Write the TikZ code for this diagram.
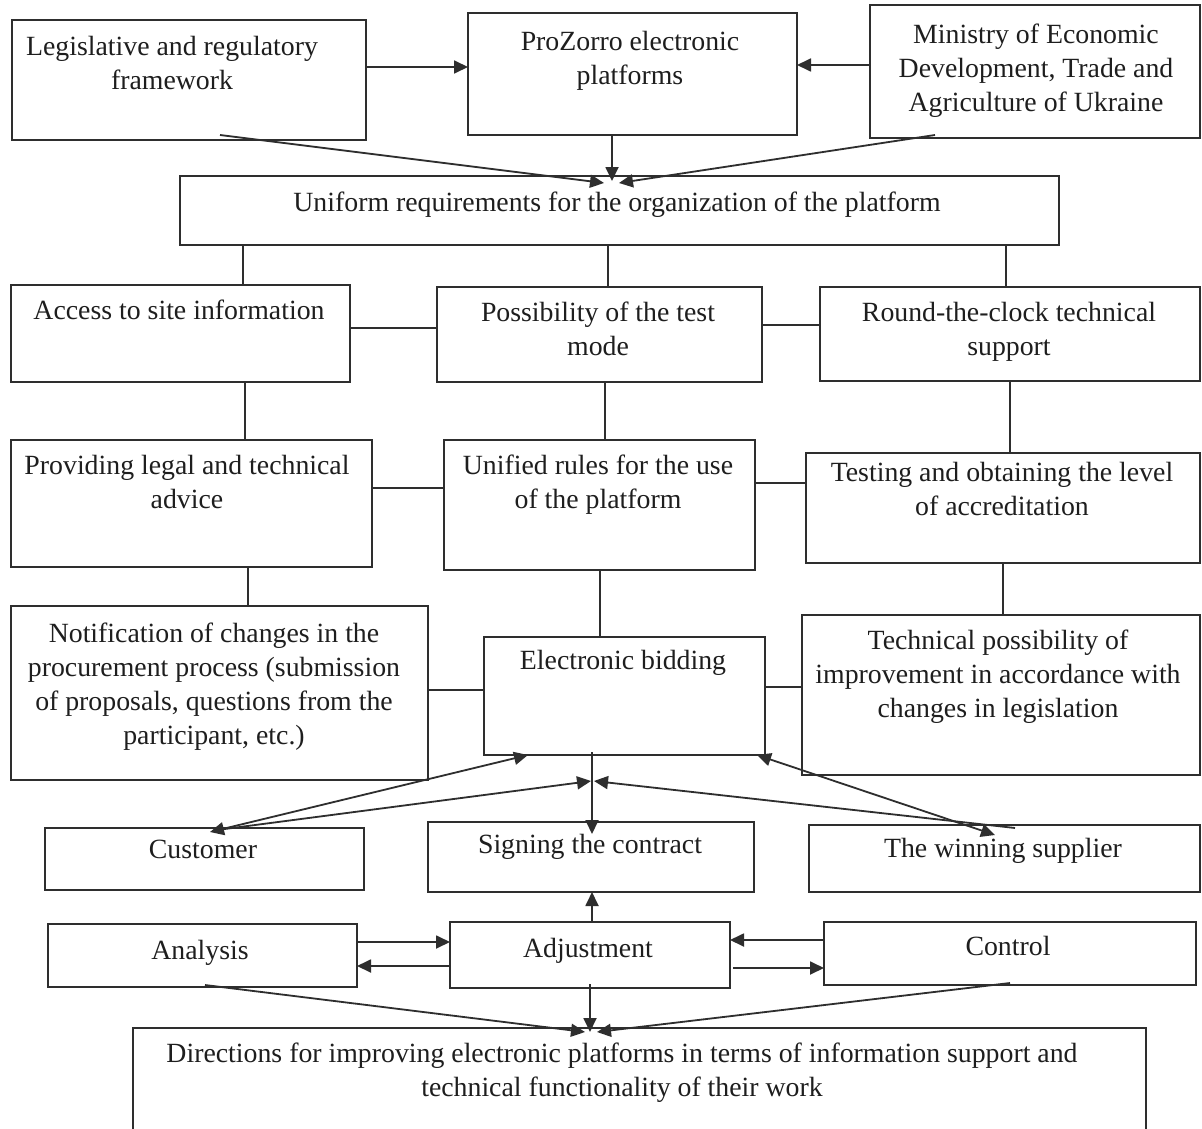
\documentclass[tikz,border=0pt]{standalone}
\usepackage{fontspec}
\setmainfont{Liberation Serif}
\usetikzlibrary{calc,arrows.meta}
\definecolor{linec}{HTML}{2E2E2E}
\definecolor{txtc}{HTML}{1E1E1E}
\tikzset{
  box/.style={draw=linec, line width=1.8pt, anchor=north west, inner sep=0pt, outer sep=0pt},
  txt/.style={anchor=north, align=center, inner sep=0pt, text=txtc, font=\fontsize{27.8}{34}\selectfont},
  ln/.style={draw=linec, line width=1.8pt},
  arr/.style={ln, -{Triangle[length=14pt,width=13pt]}},
  darr/.style={ln, {Triangle[length=14pt,width=13pt]}-{Triangle[length=14pt,width=13pt]}},
}
\newcommand\mkbox[6]{% name, x, y, w, h
  \node[box, minimum width=#4pt, minimum height=#5pt] (#1) at (#2,#3) {};}
\newcommand\vlink[3]{\path (#3,0) coordinate (tmpv); \draw[ln] (#1.south -| tmpv) -- (#2.north -| tmpv);}
\newcommand\hlink[3]{\path (0,#3) coordinate (tmph); \draw[ln] (#1.east |- tmph) -- (#2.west |- tmph);}
\begin{document}
\begin{tikzpicture}[x=1pt,y=-1pt]
\useasboundingbox[fill=white] (0,0) rectangle (1202,1129);
% boxes
\mkbox{leg}{12}{20}{354}{120}{}
\mkbox{pz}{468}{13}{329}{122}{}
\mkbox{min}{870}{5}{330}{133}{}
\mkbox{uni}{180}{176}{879}{69}{}
\mkbox{acc}{11}{285}{339}{97}{}
\mkbox{pos}{437}{287}{325}{95}{}
\mkbox{rnd}{820}{287}{380}{94}{}
\mkbox{prov}{11}{440}{361}{127}{}
\mkbox{unif}{444}{440}{311}{130}{}
\mkbox{test}{806}{453}{394}{110}{}
\mkbox{note}{11}{606}{417}{174}{}
\mkbox{bid}{484}{637}{281}{118}{}
\mkbox{tech}{802}{615}{398}{160}{}
\mkbox{cus}{45}{828}{319}{62}{}
\mkbox{sign}{428}{822}{326}{70}{}
\mkbox{win}{809}{825}{391}{67}{}
\mkbox{ana}{48}{924}{309}{63}{}
\mkbox{adj}{450}{922}{280}{66}{}
\mkbox{ctl}{824}{922}{372}{63}{}
\mkbox{dir}{133}{1028}{1013}{110}{}
% texts
\node[txt] (legT) at (172,36) {Legislative and regulatory\\framework};
\node[txt] (pzT) at (630,31) {ProZorro electronic\\platforms};
\node[txt] (minT) at (1036,24) {Ministry of Economic\\Development, Trade and\\Agriculture of Ukraine};
\node[txt] (uniT) at (617,192) {Uniform requirements for the organization of the platform};
\node[txt] (accT) at (179,300) {Access to site information};
\node[txt] (posT) at (598,302) {Possibility of the test\\mode};
\node[txt] (rndT) at (1009,302) {Round-the-clock technical\\support};
\node[txt] (provT) at (187,455) {Providing legal and technical\\advice};
\node[txt] (unifT) at (598,455) {Unified rules for the use\\of the platform};
\node[txt] (testT) at (1002,462) {Testing and obtaining the level\\of accreditation};
\node[txt] (noteT) at (214,623) {Notification of changes in the\\procurement process (submission\\of proposals, questions from the\\participant, etc.)};
\node[txt] (bidT) at (623,650) {Electronic bidding};
\node[txt] (techT) at (998,630) {Technical possibility of\\improvement in accordance with\\changes in legislation};
\node[txt] (cusT) at (203,840) {Customer};
\node[txt] (signT) at (590,834) {Signing the contract};
\node[txt] (winT) at (1003,838) {The winning supplier};
\node[txt] (anaT) at (200,940) {Analysis};
\node[txt] (adjT) at (588,938) {Adjustment};
\node[txt] (ctlT) at (1008,936) {Control};
\node[txt] (dirT) at (622,1043) {Directions for improving electronic platforms in terms of information support and\\technical functionality of their work};
% top arrows
\draw[arr] ($(leg.north east)+(0,47)$) -- ($(pz.north west)+(0,54)$);
\draw[arr] ($(min.north west)+(0,60)$) -- ($(pz.north east)+(0,52)$);
\draw[arr] ($(leg.south west)+(208,-5)$) -- ($(uni.north west)+(424,7)$);
\draw[arr] ($(pz.south west)+(144,0)$) -- ($(uni.north west)+(432,5)$);
\draw[arr] ($(min.south west)+(65,-3)$) -- ($(uni.north west)+(439,7)$);
% grid links
\vlink{uni}{acc}{243}
\vlink{uni}{pos}{608}
\vlink{uni}{rnd}{1006}
\vlink{acc}{prov}{245}
\vlink{pos}{unif}{605}
\vlink{rnd}{test}{1010}
\vlink{prov}{note}{248}
\vlink{unif}{bid}{600}
\vlink{test}{tech}{1003}
\hlink{acc}{pos}{328}
\hlink{pos}{rnd}{325}
\hlink{prov}{unif}{488}
\hlink{unif}{test}{483}
\hlink{note}{bid}{690}
\hlink{bid}{tech}{687}
% bidding / participants
\coordinate (cL) at (591,781);
\coordinate (cR) at (594,781);
\draw[arr] ($(bid.south west)+(108,-3)$) -- ($(sign.north west)+(164,12)$);
\draw[darr] ($(cus.north west)+(165,4)$) -- ($(bid.south west)+(44,0)$);
\draw[arr] ($(cus.north west)+(172,2)$) -- (cL);
\draw[darr] ($(win.north west)+(186,10)$) -- ($(bid.south east)+(-8,0)$);
\draw[arr] ($(win.north west)+(206,3)$) -- (cR);
% bottom
\draw[arr] ($(adj.north west)+(142,0)$) -- ($(sign.south west)+(164,0)$);
\draw[arr] ($(ana.north east)+(0,18)$) -- ($(adj.north west)+(0,20)$);
\draw[arr] ($(adj.north west)+(0,44)$) -- ($(ana.north east)+(0,42)$);
\draw[arr] ($(ctl.north west)+(0,18)$) -- ($(adj.north east)+(0,18)$);
\draw[arr] ($(adj.north east)+(3,46)$) -- ($(ctl.north west)+(0,46)$);
\draw[arr] ($(adj.south west)+(140,-4)$) -- ($(dir.north west)+(457,4)$);
\draw[arr] ($(ana.south west)+(157,-2)$) -- ($(dir.north west)+(452,4)$);
\draw[arr] ($(ctl.south west)+(186,-2)$) -- ($(dir.north west)+(464,4)$);
\end{tikzpicture}
\end{document}
